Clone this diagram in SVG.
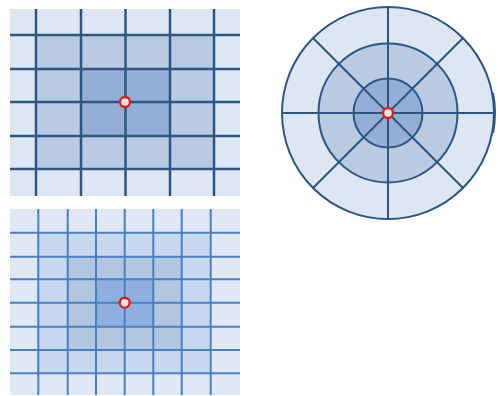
<svg xmlns="http://www.w3.org/2000/svg" width="500" height="396" viewBox="0 0 500 396">
<style>
.g1 { stroke: #2f5582; stroke-width: 2.5; fill: none; }
.g2 { stroke: #4a7fc1; stroke-width: 2; fill: none; }
.pt { fill: #fde6e6; stroke: #e01e1e; stroke-width: 2.5; }
.cl { stroke: #2f5582; stroke-width: 2; }
</style>
<rect width="500" height="396" fill="#ffffff"/>
<g id="coarse-grid">
  <rect x="10" y="9" width="230" height="187" fill="#dde7f3"/>
  <rect x="36" y="35" width="178" height="134" fill="#b8cbe3"/>
  <rect x="81" y="69" width="89" height="67" fill="#93afd5"/>
  <path class="g1" d="M36 9V196M81 9V196M125.5 9V196M170 9V196M214 9V196M10 35H240M10 69H240M10 102H240M10 136H240M10 169H240"/>
  <circle class="pt" cx="125" cy="102" r="5"/>
</g>
<g id="fine-grid">
  <rect x="10" y="209" width="230" height="186" fill="#dfe8f4"/>
  <rect x="38.3" y="232.7" width="172.4" height="140.6" fill="#c8d8ee"/>
  <rect x="67.7" y="256.7" width="114" height="93.3" fill="#b3c6df"/>
  <rect x="96" y="279.3" width="57.3" height="47.4" fill="#8fb0de"/>
  <path class="g2" d="M38.3 209V395M67.7 209V395M96 209V395M124.7 209V395M153.3 209V395M181.7 209V395M210.7 209V395M10 232.7H240M10 256.7H240M10 279.3H240M10 302.7H240M10 326.7H240M10 350H240M10 373.3H240"/>
  <circle class="pt" cx="124.7" cy="302.7" r="5"/>
</g>
<g id="polar-grid">
  <circle cx="388" cy="113" r="106" fill="#dde7f3" class="cl"/>
  <circle cx="388" cy="113" r="69.5" fill="#b8cbe3" class="cl"/>
  <circle cx="388" cy="113" r="34.5" fill="#93afd5" class="cl"/>
  <path class="cl" d="M282 113H494M388 7V219M313 38L463 188M313 188L463 38"/>
  <path d="M493 93Q497 113 493 133" stroke="#2f5582" stroke-width="2" fill="none"/>
  <circle class="pt" cx="388" cy="113" r="5"/>
</g>
</svg>
